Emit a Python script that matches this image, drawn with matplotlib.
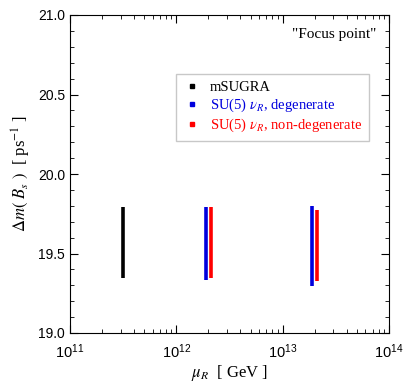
import matplotlib
matplotlib.use('Agg')
import matplotlib.pyplot as plt
from matplotlib.lines import Line2D
from matplotlib.ticker import MultipleLocator, LogLocator, NullFormatter, FuncFormatter
import numpy as np

plt.rcParams['mathtext.fontset'] = 'stix'
plt.rcParams['font.family'] = 'Liberation Sans'

# vertical ranges of dm(Bs) vs mu_R
labels = ['mSUGRA', r'SU(5) $\nu_R$, degenerate', r'SU(5) $\nu_R$, non-degenerate']
colors = ['black', '#0000dd', '#ff0000']
mu_r = [[3.15e11], [1.9e12, 1.9e13], [2.1e12, 2.1e13]]
dm_lo = [[19.345], [19.333, 19.296], [19.344, 19.327]]
dm_hi = [[19.79], [19.79, 19.797], [19.79, 19.776]]

fig = plt.figure(figsize=(4.05, 3.83), dpi=100)
ax = fig.add_axes([70 / 405, 50 / 383, 319 / 405, 318 / 383])

for i in range(len(labels)):
    ax.vlines(mu_r[i], dm_lo[i], dm_hi[i], colors=colors[i], linewidth=2.6)

ax.set_xscale('log')
ax.set_xlim(1e11, 1e14)
ax.set_ylim(19.0, 21.0)
ax.yaxis.set_major_locator(MultipleLocator(0.5))
ax.yaxis.set_minor_locator(MultipleLocator(0.1))
ax.xaxis.set_major_locator(LogLocator(base=10))
ax.xaxis.set_minor_locator(LogLocator(base=10, subs=range(2, 10)))
ax.xaxis.set_minor_formatter(NullFormatter())
ax.xaxis.set_major_formatter(FuncFormatter(
    lambda v, p: r'$\mathregular{10^{%d}}$' % int(round(np.log10(v)))))
ax.yaxis.set_major_formatter(matplotlib.ticker.FormatStrFormatter('%.1f'))
ax.tick_params(which='both', direction='in', top=True, right=True)
ax.tick_params(which='major', length=6, labelsize=10)
ax.tick_params(which='minor', length=3)
ax.tick_params(axis='x', which='major', pad=7, labelsize=10.5)

ax.set_xlabel(r'$\mu_R$  [ GeV ]', fontsize=12, family='Liberation Serif')
ax.set_ylabel(r'$\Delta m($ $B_s$ $)$  [ ps$^{-1}$ ]', fontsize=12, family='Liberation Serif')
ax.xaxis.set_label_coords(0.5, -0.095)
ax.yaxis.set_label_coords(-0.115, 0.5)

ax.text(0.96, 0.94, '"Focus point"', transform=ax.transAxes, ha='right', va='center',
        fontsize=11, family='Liberation Serif')

handles = [Line2D([], [], color=c, marker='s', markersize=3, linestyle='none') for c in colors]
leg = ax.legend(handles, labels, loc='upper right', bbox_to_anchor=(0.937, 0.814),
                prop={'family': 'Liberation Serif', 'size': 10.5}, fancybox=False,
                edgecolor='#bbbbbb', handlelength=1.3, handletextpad=0.6,
                borderpad=0.45, labelspacing=0.2, borderaxespad=0)
leg.get_frame().set_linewidth(1.0)
for t, c in zip(leg.get_texts(), colors):
    t.set_color(c)

fig.savefig('out.png', dpi=100)
